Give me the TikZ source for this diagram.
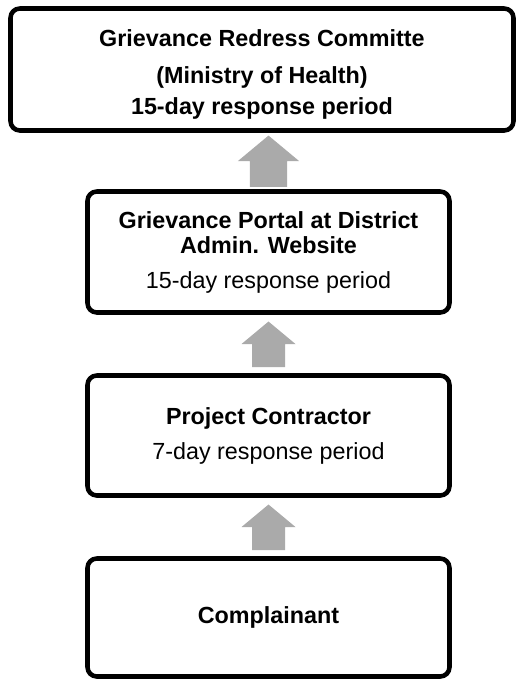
\documentclass[tikz,border=0pt]{standalone}
\usepackage{fontspec}
\setmainfont{Liberation Sans}
\usetikzlibrary{calc}

\definecolor{arrowgray}{RGB}{170,170,170}
\tikzset{every picture/.style={line width=0.75pt}}
\tikzset{
  stage/.style={draw, line width=3.4pt, rounded corners=7pt, align=center, inner sep=0pt,
    minimum width=271.5pt},
  uparrow/.pic={\fill[arrowgray] (-16.5,-23) -- (-16.5,0) -- (-27,0) -- (0,22.5) -- (27,0) -- (16.5,0) -- (16.5,-23) -- cycle;}
}

\begin{document}
\begin{tikzpicture}[x=0.75pt,y=0.75pt,yscale=-1,xscale=1,font=\fontsize{17.5}{18.75}\selectfont]
	\useasboundingbox (0,0) rectangle (517,679);

	%Shape: Rounded Rect [id:grc]
	\node[stage, minimum width=377.25pt, minimum height=91.5pt, font=\fontsize{17.5}{18.75}\selectfont\bfseries] (grc) at (262,69.5)
		{\rule{0pt}{20pt}Grievance Redress Committe\\[8.5pt](Ministry of Health)\\[4.5pt]15-day response period};
	%Shape: Rounded Rect [id:portal]
	\node[stage, minimum height=90.75pt] (portal) at (268.5,252)
		{\textbf{Grievance Portal at District}\\\textbf{Admin. Website}\\[7.5pt]15-day response period};
	%Shape: Rounded Rect [id:contractor]
	\node[stage, minimum height=90pt] (contractor) at (268.5,435.5)
		{\textbf{Project Contractor}\\[7.5pt]7-day response period};
	%Shape: Rounded Rect [id:complainant]
	\node[stage, minimum height=88.5pt, font=\fontsize{17.5}{18.75}\selectfont\bfseries] (complainant) at (268.5,617.5)
		{Complainant};

	%Block arrows between the levels
	\path ($(portal.north)!0.5!(portal.north|-grc.south)$) pic[scale=1.13] {uparrow};
	\path ($(contractor.north)!0.5!(portal.south)$) pic {uparrow};
	\path ($(complainant.north)!0.5!(contractor.south)$) pic {uparrow};

\end{tikzpicture}
\end{document}
